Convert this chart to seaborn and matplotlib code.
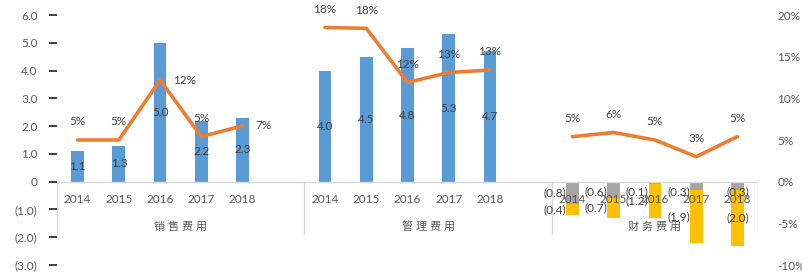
import numpy as np
import pandas as pd
import matplotlib
matplotlib.use("Agg")
import matplotlib.pyplot as plt
import seaborn as sns

# ---------------- data ----------------
groups = ["销售费用", "管理费用", "财务费用"]
years = ["2014", "2015", "2016", "2017", "2018"]
sales_exp = [1.1, 1.3, 5.0, 2.2, 2.3]
admin_exp = [4.0, 4.5, 4.8, 5.3, 4.7]
fin_gray = [-0.8, -0.6, -0.1, -0.3, -0.3]
fin_yellow = [-0.4, -0.7, -1.2, -1.9, -2.0]
sales_ratio = [0.050, 0.050, 0.122, 0.054, 0.067]
admin_ratio = [0.185, 0.184, 0.119, 0.131, 0.134]
fin_ratio = [0.054, 0.059, 0.050, 0.030, 0.054]

left_ticks = [6, 5, 4, 3, 2, 1, 0, -1, -2, -3]
left_tick_labels = ["6.0", "5.0", "4.0", "3.0", "2.0", "1.0", "0", "(1.0)", "(2.0)", "(3.0)"]
right_ticks = [0.20, 0.15, 0.10, 0.05, 0.0, -0.05, -0.10]
right_tick_labels = ["20%", "15%", "10%", "5%", "0%", "-5%", "-10%"]

# ---------------- style ----------------
BLUE = "#5B9BD5"
ORANGE = "#ED7D31"
GRAY = "#A5A5A5"
YELLOW = "#FFC000"
TICK_C = "#595959"
LABEL_C = "#404040"
LINE_C = "#D9D9D9"

sns.set_theme(style="white")
plt.rcParams["font.family"] = ["Lato", "Noto Sans CJK SC", "DejaVu Sans"]

# slot positions: 6 slots per group (last group 5)
def slots(g):
    return [g * 6 + i for i in range(len(years))]

blue_df = pd.DataFrame({
    "pos": slots(0) + slots(1),
    "value": sales_exp + admin_exp,
})
fin_total = [a + b for a, b in zip(fin_gray, fin_yellow)]
yellow_df = pd.DataFrame({"pos": slots(2), "value": fin_total})
gray_df = pd.DataFrame({"pos": slots(2), "value": fin_gray})

line_df = pd.DataFrame({
    "pos": slots(0) + slots(1) + slots(2),
    "ratio": sales_ratio + admin_ratio + fin_ratio,
    "group": [groups[0]] * 5 + [groups[1]] * 5 + [groups[2]] * 5,
})

fig = plt.figure(figsize=(8.02, 2.77), dpi=100)
ax = fig.add_axes([57 / 802, 1 - 265 / 277, (758 - 57) / 802, 250 / 277])

W = 0.31
sns.barplot(data=blue_df, x="pos", y="value", native_scale=True, width=W,
            color=BLUE, saturation=1, errorbar=None, linewidth=0, ax=ax)
sns.barplot(data=yellow_df, x="pos", y="value", native_scale=True, width=W,
            color=YELLOW, saturation=1, errorbar=None, linewidth=0, ax=ax)
sns.barplot(data=gray_df, x="pos", y="value", native_scale=True, width=W,
            color=GRAY, saturation=1, errorbar=None, linewidth=0, ax=ax)

ax.set_xlim(-0.5, 16.5)
ax.set_ylim(-3, 6)
ax.set_xticks([])
ax.set_xlabel("")
ax.set_ylabel("")
ax.set_yticks(left_ticks)
ax.set_yticklabels(left_tick_labels)
ax.tick_params(axis="y", left=False, pad=8, labelsize=8.5, labelcolor=TICK_C)
for s in ax.spines.values():
    s.set_visible(False)

FS = 8.5
# blue bar labels (centered)
for p, v in zip(blue_df["pos"], blue_df["value"]):
    ax.text(p, v / 2, f"{v:.1f}", ha="center", va="center", fontsize=FS, color=LABEL_C)

# finance labels
def neg(v):
    return f"({abs(v):.1f})"

for i, (p, g, y) in enumerate(zip(slots(2), fin_gray, fin_yellow)):
    if i < 4:
        x, ha = p - W / 2, "right"
    else:
        x, ha = p, "center"
    gy = min(g / 2, -0.38)
    yy = g + y / 2
    ax.text(x, gy, neg(g), ha=ha, va="center", fontsize=FS, color=LABEL_C)
    ax.text(x, yy, neg(y), ha=ha, va="center", fontsize=FS, color=LABEL_C)

# category axis
ax.plot([-0.5, 16.5], [0, 0], color=LINE_C, lw=1, zorder=1)
for xs in [-0.5, 5.5, 11.5, 16.5]:
    ax.plot([xs, xs], [0, -1.9], color=LINE_C, lw=1, zorder=1)
for g in range(3):
    for i, yr in enumerate(years):
        ax.text(g * 6 + i, -0.65, yr, ha="center", va="center", fontsize=FS, color=TICK_C)
group_centers = [2.5, 8.5, 14.0]
for c, name in zip(group_centers, groups):
    ax.text(c, -1.62, " ".join(name), ha="center", va="center", fontsize=8, color=TICK_C)

# secondary axis line
ax2 = ax.twinx()
sns.lineplot(data=line_df, x="pos", y="ratio", units="group", estimator=None,
             color=ORANGE, lw=2.6, legend=False, ax=ax2)
ax2.set_ylim(-0.10, 0.20)
ax2.set_xlim(-0.5, 16.5)
ax2.set_yticks(right_ticks)
ax2.set_yticklabels(right_tick_labels)
ax2.set_ylabel("")
ax2.set_xlabel("")
ax2.tick_params(axis="y", right=False, pad=8, labelsize=8.5, labelcolor=TICK_C)
for s in ax2.spines.values():
    s.set_visible(False)

label_side = ["up", "up", "right", "up", "right"] + ["up"] * 10
for (p, r), side in zip(zip(line_df["pos"], line_df["ratio"]), label_side):
    txt = f"{round(r * 100):d}%"
    if side == "up":
        ax2.annotate(txt, (p, r), xytext=(0, 13), textcoords="offset points",
                     ha="center", va="center", fontsize=FS, color=LABEL_C)
    else:
        ax2.annotate(txt, (p, r), xytext=(9, 0), textcoords="offset points",
                     ha="left", va="center", fontsize=FS, color=LABEL_C)

fig.savefig("out.png", dpi=100)
